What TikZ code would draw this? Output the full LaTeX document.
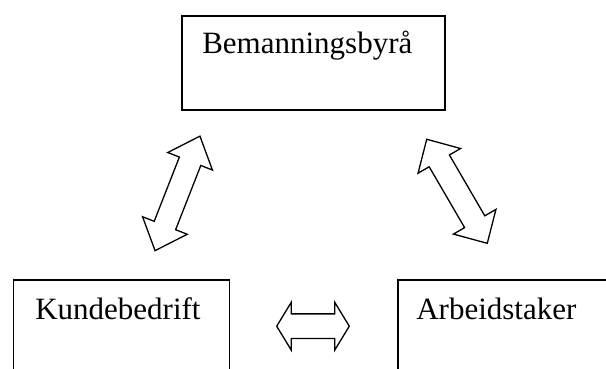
\documentclass[tikz,border=0pt]{standalone}
\usepackage{fontspec}
\setmainfont{Liberation Serif}
\begin{document}
\begin{tikzpicture}[x=1pt,y=1pt,
  boxstyle/.style={draw=black, line width=1.6pt, rectangle, anchor=north west,
    align=left, inner ysep=0pt, font=\fontsize{31}{37}\selectfont},
  blockarrow/.style={draw=black, fill=white, line width=1.3pt, line join=miter},
  pics/dblarrow/.style n args={4}{code={
    \draw[blockarrow] (#1,0) -- ({#1-#3},#4) -- ({#1-#3},#2) -- ({-#1+#3},#2)
      -- ({-#1+#3},#4) -- (-#1,0) -- ({-#1+#3},-#4) -- ({-#1+#3},-#2)
      -- ({#1-#3},-#2) -- ({#1-#3},-#4) -- cycle;
  }}]
\useasboundingbox (0,0) rectangle (606,369);
\clip (0,0) rectangle (606,369);
\node[boxstyle, inner xsep=20.5pt, text width=222.3pt, text height=38pt, text depth=56.3pt]
  (byra) at (181,354) {Bemanningsbyrå};
\node[boxstyle, inner xsep=21.8pt, text width=172.4pt, text height=39pt, text depth=70pt]
  (kunde) at (12.7,89.7) {Kundebedrift};
\node[boxstyle, inner xsep=18.2pt, text width=186.3pt, text height=39pt, text depth=70pt]
  (arb) at (397.3,89.7) {Arbeidstaker};
\coordinate (a1) at (177.5,175.6);
\coordinate (a2) at (457,177.7);
\coordinate (a3) at (313,42.8);
\pic[rotate=68.6] at (a1) {dblarrow={61.5}{11.5}{27}{24}};
\pic[rotate=120.2] at (a2) {dblarrow={60.2}{11.7}{25}{24.6}};
\pic at (a3) {dblarrow={36.3}{12.3}{14.5}{23.8}};
\end{tikzpicture}
\end{document}
